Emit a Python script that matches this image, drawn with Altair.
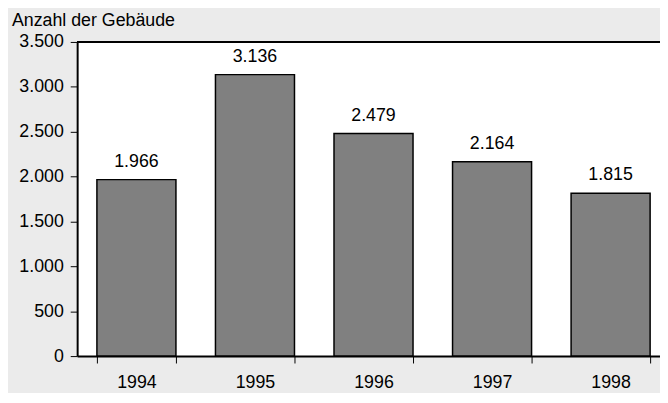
import altair as alt
import pandas as pd

years = ["1994", "1995", "1996", "1997", "1998"]
buildings = [1966, 3136, 2479, 2164, 1815]
y_ticks = [0, 500, 1000, 1500, 2000, 2500, 3000, 3500]
title_text = "Anzahl der Gebäude"

df = pd.DataFrame({"year": years, "value": buildings})
FONT = "Liberation Sans"
DE_FMT = "replace(format(datum.value, ','), ',', '.')"

x = alt.X(
    "year:N", title=None, sort=years,
    scale=alt.Scale(range=[0, 600], paddingInner=1 / 3, paddingOuter=1 / 6),
    axis=alt.Axis(labelAngle=0, tickBand="extent", domainColor="black", domainWidth=2,
                  tickColor="black", tickSize=7, tickWidth=1, labelPadding=11,
                  labelFontSize=18, labelFont=FONT, labelColor="black"),
)
y = alt.Y(
    "value:Q", title=None,
    scale=alt.Scale(domain=[0, 3500], nice=False),
    axis=alt.Axis(values=y_ticks, grid=False, labelExpr=DE_FMT, domainColor="black",
                  domainWidth=2, tickColor="black", tickSize=7, tickWidth=1,
                  labelPadding=7, labelFontSize=18, labelFont=FONT, labelColor="black"),
)

base = alt.Chart(df).transform_calculate(label=DE_FMT)

bars = base.mark_bar(color="#808080", stroke="black", strokeWidth=1.5).encode(x=x, y=y)
labels = base.mark_text(dy=-13, baseline="alphabetic", fontSize=18, font=FONT,
                        color="black").encode(x=alt.X("year:N", sort=years), y="value:Q",
                                              text="label:N")
top = alt.Chart(df).mark_rule(color="black", strokeWidth=2).encode(y=alt.datum(3500))

chart = alt.layer(bars, labels, top).properties(
    width=590, height=318,
    autosize=alt.AutoSizeParams(type="none"),
    padding={"left": 70, "top": 32, "right": 0, "bottom": 35},
    background="#ebebeb",
    title=alt.TitleParams(title_text, anchor="start", frame="group", dx=-66, offset=-11,
                          fontSize=18, font=FONT, fontWeight="normal", color="black",
                          baseline="alphabetic"),
).configure_view(fill="white", stroke=None)

chart.save("out.html", embed_options={"renderer": "svg", "actions": False})
